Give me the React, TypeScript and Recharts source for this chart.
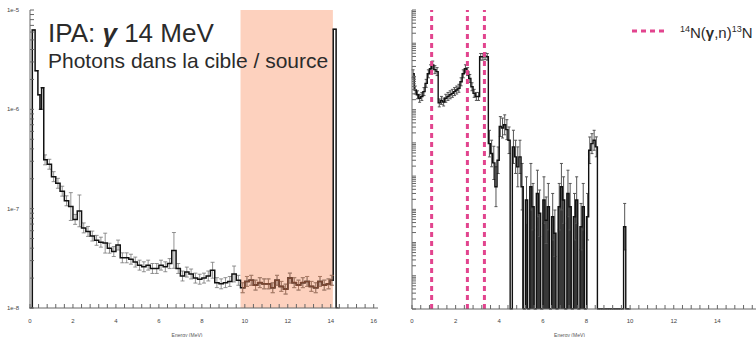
import { ComposedChart, Line, Area, XAxis, YAxis, ErrorBar, ReferenceArea, ReferenceLine } from 'recharts';

// ---- left panel: photons in the target / source (log scale) ----
const LEFT_CENTERS = [
    0.05, 0.165, 0.31, 0.425, 0.5, 0.58,
    0.7, 0.9, 1.1, 1.3, 1.5, 1.7, 1.9, 2.1, 2.3, 2.5,
    2.7, 2.9, 3.1, 3.3, 3.5, 3.7, 3.9, 4.1, 4.3, 4.5,
    4.7, 4.9, 5.1, 5.3, 5.5, 5.7, 5.9, 6.1, 6.3, 6.5,
    6.7, 6.9, 7.1, 7.3, 7.5, 7.7, 7.9, 8.1, 8.3, 8.5,
    8.7, 8.9, 9.1, 9.3, 9.5, 9.7, 9.9, 10.1, 10.3, 10.5,
    10.7, 10.9, 11.1, 11.3, 11.5, 11.7, 11.9, 12.1, 12.3, 12.5,
    12.7, 12.9, 13.1, 13.3, 13.5, 13.7, 13.9,
    14.05, 14.18, 14.32,
];
const LEFT_VALUES = [
    1e-8, 6.3e-6, 2.45e-6, 1.4e-6, 1.0e-6, 1.65e-6,
    3.1e-7, 2.8e-7, 2.1e-7, 1.8e-7, 1.5e-7, 1.2e-7, 1.05e-7, 7.8e-8, 9.5e-8, 6.4e-8,
    5.9e-8, 5.3e-8, 4.8e-8, 4.6e-8, 4.5e-8, 4.0e-8, 3.7e-8, 4.3e-8, 3.2e-8, 3.2e-8,
    3.1e-8, 2.9e-8, 2.7e-8, 2.6e-8, 2.7e-8, 2.5e-8, 2.5e-8, 2.7e-8, 2.6e-8, 2.8e-8,
    3.8e-8, 2.5e-8, 2.1e-8, 2.3e-8, 2.2e-8, 2.0e-8, 1.95e-8, 2.0e-8, 2.1e-8, 2.4e-8,
    1.8e-8, 1.75e-8, 1.8e-8, 1.85e-8, 2.2e-8, 1.9e-8, 1.6e-8, 1.85e-8, 1.9e-8, 1.7e-8,
    1.8e-8, 1.75e-8, 1.75e-8, 1.6e-8, 1.9e-8, 1.65e-8, 1.55e-8, 2.0e-8, 1.8e-8, 1.7e-8,
    1.8e-8, 1.85e-8, 1.65e-8, 1.6e-8, 1.85e-8, 1.7e-8, 1.75e-8,
    1.9e-8, 6.4e-6, 1e-8,
];
// error size in decades; peaks with long bars listed separately
const LEFT_ERR_DEFAULT = 0.05;
const LEFT_ERR_PEAKS: Record<number, number> = { 1.9: 0.14, 2.3: 0.16, 3.5: 0.1, 6.7: 0.18, 8.5: 0.08, 9.5: 0.08 };
const LEFT_X_TICKS = [0, 2, 4, 6, 8, 10, 12, 14, 16];
const LEFT_Y_DECADES = [1e-8, 1e-7, 1e-6, 1e-5];
const SOURCE_BAND = [9.8, 14.1];

// ---- right panel: 14N(g,n)13N ----
const RIGHT_BIN = 0.1;
const RIGHT_VALUES = [
    1.2e-2, 3.9e-3, 2.8e-3, 2.2e-3, 2.5e-3, 3.5e-3, 6.2e-3, 1.2e-2, 1.7e-2, 2.2e-2,
    1.6e-2, 1.4e-2, 1.6e-3, 1.9e-3, 1.7e-3, 2.2e-3, 2.5e-3, 2.8e-3, 3.1e-3, 3.5e-3,
    3.9e-3, 4.4e-3, 6.9e-3, 1.2e-2, 1.7e-2, 1.4e-2, 8.7e-3, 4.9e-3, 3.1e-3, 2.5e-3,
    2.5e-3, 3.9e-2, 3.9e-2, 4.1e-2, 3.9e-2, 9.5e-5, 4.8e-5, 2.5e-5, 4.8e-6, 3.0e-5,
    3.1e-4, 2.8e-4, 3.5e-4, 2.5e-4, 1.2e-4, 0, 7.6e-5, 3.8e-5, 1.9e-5, 3.8e-5,
    4.8e-6, 0, 1.9e-6, 0, 4.8e-6, 1.2e-6, 0, 3.0e-6, 7.6e-7, 0,
    1.9e-6, 4.7e-7, 1.2e-6, 0, 6e-7, 1.9e-7, 0, 1.2e-6, 4.8e-6, 1.9e-6,
    0, 3.0e-6, 1.2e-6, 0, 6e-7, 1.9e-6, 0, 3e-7, 1.2e-6, 0,
    6e-7, 6e-5, 9.5e-5, 1.2e-4, 7.6e-5, 0, 0, 0, 0, 0,
    0, 0, 0, 0, 0, 0, 0, 3e-7, 0, 0,
];
const RIGHT_ERR = [
    0.12, 0.12, 0.12, 0.12, 0.12, 0.12, 0.12, 0.12, 0.12, 0.12,
    0.12, 0.12, 0.12, 0.12, 0.12, 0.12, 0.12, 0.12, 0.12, 0.12,
    0.12, 0.12, 0.12, 0.12, 0.12, 0.12, 0.12, 0.12, 0.12, 0.12,
    0.12, 0.1, 0.1, 0.1, 0.1, 0.4, 0.4, 0.5, 0.6, 0.4,
    0.3, 0.3, 0.3, 0.3, 0.4, 0, 0.5, 0.5, 0.6, 0.5,
    0.7, 0, 0.7, 0, 0.7, 0.7, 0, 0.7, 0.7, 0,
    0.7, 0.7, 0.7, 0, 0.7, 0.7, 0, 0.7, 0.7, 0.7,
    0, 0.7, 0.7, 0, 0.7, 0.7, 0, 0.7, 0.7, 0,
    0.7, 0.4, 0.3, 0.3, 0.3, 0, 0, 0, 0, 0,
    0, 0, 0, 0, 0, 0, 0, 0.7, 0, 0,
];
const RIGHT_FLOOR = 1e-9;
const DENSE_RANGE = [5.0, 8.1]; // low-statistics part drawn as a dark mass
const RIGHT_X_TICKS = [0, 2, 4, 6, 8, 10, 12, 14];
const RIGHT_Y_DECADES = [1e-9, 1e-8, 1e-7, 1e-6, 1e-5, 1e-4, 1e-3, 1e-2, 1e-1, 1];
const RESONANCES = [0.9, 2.54, 3.32];

const FRAME = '#666';
const PINK = '#e2448e';
const FONT = '"Liberation Sans", Arial, sans-serif';

// tick helpers (minor ticks between decades / every 0.4 MeV)
const withMinor = (decades: number[]) =>
    decades.flatMap((d, i) => (i === decades.length - 1 ? [d] : [1, 2, 3, 4, 5, 6, 7, 8, 9].map(m => d * m)));
const isDecade = (v: number) => Math.abs(Math.log10(v) - Math.round(Math.log10(v))) < 1e-6;
const fmtY = (v: number) => (isDecade(v) ? v.toExponential(0).replace('+', '') : '');
const xMinor = (last: number) => {
    const out: number[] = [];
    for (let k = 0; k <= last / 0.4 + 1e-9; k++) out.push(+(k * 0.4).toFixed(1));
    return out;
};
const errRange = (v: number, e: number) => [v - v / 10 ** e, v * 10 ** e - v];

function LeftPanel() {
    const data = LEFT_CENTERS.map((x, i) => {
        const v = LEFT_VALUES[i];
        const inBody = i >= 6 && i < LEFT_CENTERS.length - 2;
        const e = inBody ? (LEFT_ERR_PEAKS[x] ?? LEFT_ERR_DEFAULT) : 0;
        const inBand = x >= SOURCE_BAND[0] && x <= SOURCE_BAND[1] && inBody;
        return { x, v, err: errRange(v, e), band: inBand ? v : null };
    });
    const xt = xMinor(16);
    const yt = withMinor(LEFT_Y_DECADES);
    const fmtX = (v: number) => (LEFT_X_TICKS.includes(v) ? String(v) : '');
    const tickStyle = { fontSize: 6, fill: '#444', fontFamily: FONT };

    return (
        <ComposedChart width={380} height={337} data={data} margin={{ top: 10, right: 2, left: 0, bottom: 0 }}>
            <XAxis dataKey="x" type="number" domain={[0, 16.2]} ticks={xt} interval={0} tickFormatter={fmtX}
                tickSize={-4} tickMargin={15} height={29} stroke={FRAME} tick={tickStyle} allowDataOverflow
                label={{ value: 'Energy (MeV)', position: 'insideBottom', offset: 0, dx: -17, fontSize: 5, fill: '#555' }} />
            <XAxis xAxisId="top" orientation="top" dataKey="x" type="number" domain={[0, 16.2]} ticks={xt} interval={0}
                tickFormatter={() => ''} tickSize={-4} height={0} stroke={FRAME} allowDataOverflow />
            <YAxis type="number" scale="log" domain={[1e-8, 1e-5]} ticks={yt} interval={0} tickFormatter={fmtY}
                tickSize={-4} tickMargin={15} width={30} stroke={FRAME} tick={tickStyle} allowDataOverflow />
            <YAxis yAxisId="r" orientation="right" type="number" scale="log" domain={[1e-8, 1e-5]} ticks={yt} interval={0}
                tickFormatter={() => ''} tickSize={-4} width={0} stroke={FRAME} allowDataOverflow />
            <ReferenceArea x1={SOURCE_BAND[0]} x2={SOURCE_BAND[1]} fill="#fdd1be" fillOpacity={1} stroke="none" />
            <Line dataKey="v" type="step" stroke="#111" strokeWidth={1.5} dot={false} activeDot={false} isAnimationActive={false}>
                <ErrorBar dataKey="err" width={2} stroke="#777" strokeWidth={0.8} isAnimationActive={false} />
            </Line>
            {/* part of the spectrum seen through the shaded source band */}
            <Line dataKey="band" type="step" stroke="#7a4632" strokeWidth={1.6} dot={false} activeDot={false} isAnimationActive={false}>
                <ErrorBar dataKey="err" width={2} stroke="#b07a62" strokeWidth={0.9} isAnimationActive={false} />
            </Line>
        </ComposedChart>
    );
}

function RightPanel() {
    const data = RIGHT_VALUES.map((raw, i) => {
        const v = raw > 0 ? raw : RIGHT_FLOOR;
        const x = +(i * RIGHT_BIN + RIGHT_BIN / 2).toFixed(2);
        const dense = x >= DENSE_RANGE[0] && x <= DENSE_RANGE[1] ? v : null;
        return { x, v, dense, err: errRange(v, raw > 0 ? RIGHT_ERR[i] : 0) };
    });
    const xt = xMinor(16);
    const yt = withMinor(RIGHT_Y_DECADES);
    const fmtX = (v: number) => (RIGHT_X_TICKS.includes(v) ? String(v) : '');
    const tickStyle = { fontSize: 6, fill: '#444', fontFamily: FONT };

    return (
        <ComposedChart width={390} height={337} data={data} margin={{ top: 10, right: 9, left: 0, bottom: 0 }}>
            <XAxis dataKey="x" type="number" domain={[0, 16]} ticks={xt} interval={0} tickFormatter={fmtX}
                tickSize={-4} tickMargin={14} height={28} stroke={FRAME} tick={tickStyle} allowDataOverflow
                label={{ value: 'Energy (MeV)', position: 'insideBottom', offset: 0, dx: -17, fontSize: 5, fill: '#555' }} />
            <XAxis xAxisId="top" orientation="top" dataKey="x" type="number" domain={[0, 16]} ticks={xt} interval={0}
                tickFormatter={() => ''} tickSize={-4} height={0} stroke={FRAME} allowDataOverflow />
            <YAxis type="number" scale="log" domain={[RIGHT_FLOOR, 1]} ticks={yt} interval={0} tickFormatter={() => ''}
                tickSize={-4} width={32} stroke={FRAME} allowDataOverflow />
            <Area dataKey="dense" type="step" stroke="none" fill="#151515" fillOpacity={0.85} isAnimationActive={false} />
            <Line dataKey="v" type="step" stroke="#111" strokeWidth={1.4} dot={false} activeDot={false} isAnimationActive={false}>
                <ErrorBar dataKey="err" width={1.5} stroke="#555" strokeWidth={1} isAnimationActive={false} />
            </Line>
            {RESONANCES.map(x => (
                <ReferenceLine key={x} x={x} stroke={PINK} strokeWidth={3} strokeDasharray="5 4" />
            ))}
        </ComposedChart>
    );
}

export default function App() {
    return (
        <div style={{ position: 'absolute', left: 0, top: 0, width: 756, height: 337, overflow: 'hidden', background: '#fff', fontFamily: FONT }}>
            <div style={{ position: 'absolute', left: 0, top: 0 }}>
                <LeftPanel />
            </div>
            <div style={{ position: 'absolute', left: 380, top: 0, width: 376, height: 337, overflow: 'hidden' }}>
                <RightPanel />
            </div>
            <div style={{ position: 'absolute', left: 48, top: 20, fontSize: 26, lineHeight: '26px', color: '#2b2b2b', whiteSpace: 'nowrap' }}>
                IPA: <b><i>γ</i></b> 14 MeV
            </div>
            <div style={{ position: 'absolute', left: 48, top: 50, fontSize: 21, lineHeight: '21px', color: '#2b2b2b', whiteSpace: 'nowrap' }}>
                Photons dans la cible / source
            </div>
            <svg style={{ position: 'absolute', left: 630, top: 26 }} width={40} height={10}>
                <line x1={2} y1={5} x2={38} y2={5} stroke={PINK} strokeWidth={3} strokeDasharray="5 4" />
            </svg>
            <div style={{ position: 'absolute', left: 680, top: 22, fontSize: 15, lineHeight: '15px', color: '#2b2b2b', whiteSpace: 'nowrap' }}>
                <sup style={{ fontSize: 9 }}>14</sup>N(<b>γ</b>,n)<sup style={{ fontSize: 9 }}>13</sup>N
            </div>
        </div>
    );
}
